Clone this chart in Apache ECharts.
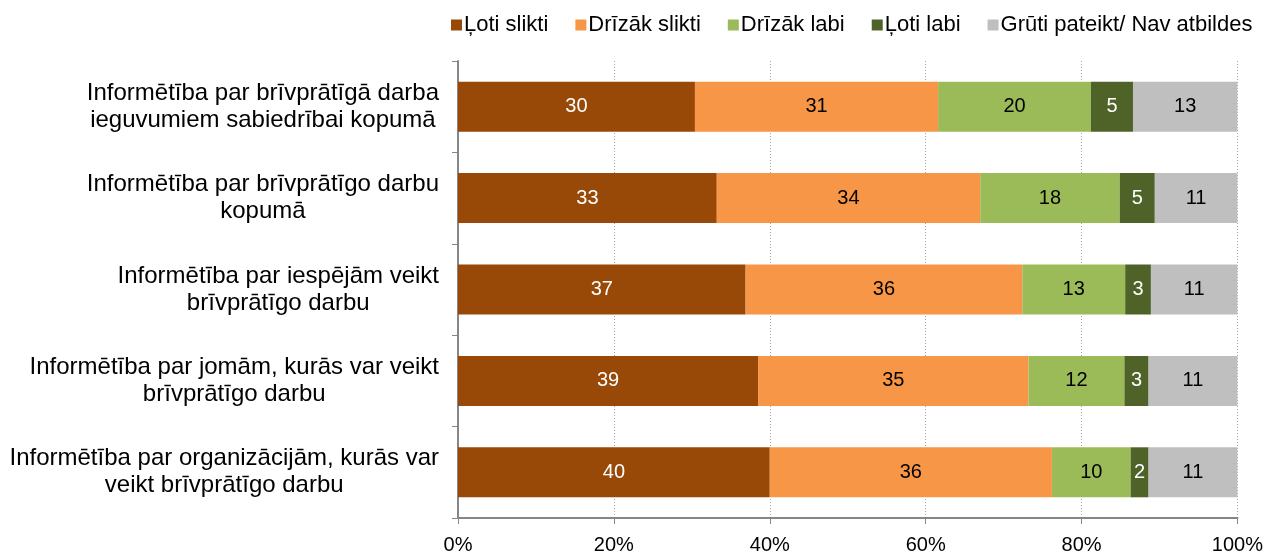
<!DOCTYPE html>
<html>
<head>
<meta charset="utf-8">
<script src="https://cdn.jsdelivr.net/npm/echarts@6/dist/echarts.min.js"></script>
<style>
  html, body { margin: 0; padding: 0; background: #fff; }
  #chart { width: 1266px; height: 555px; }
</style>
</head>
<body>
<div id="chart"></div>
<script>
const categories = [
  'Informētība par brīvprātīgā darba\nieguvumiem sabiedrībai kopumā',
  'Informētība par brīvprātīgo darbu\nkopumā',
  'Informētība par iespējām veikt\nbrīvprātīgo darbu',
  'Informētība par jomām, kurās var veikt\nbrīvprātīgo darbu',
  'Informētība par organizācijām, kurās var\nveikt brīvprātīgo darbu'
];
const seriesNames = ['Ļoti slikti', 'Drīzāk slikti', 'Drīzāk labi', 'Ļoti labi', 'Grūti pateikt/ Nav atbildes'];
// shares in % (labels show rounded values)
const lotiSlikti = [30.4, 33.2, 36.9, 38.5, 40.0];
const drizakSlikti = [31.2, 33.8, 35.5, 34.7, 36.2];
const drizakLabi = [19.6, 17.9, 13.2, 12.3, 10.1];
const lotiLabi = [5.4, 4.5, 3.3, 3.1, 2.3];
const gruti = [13.4, 10.6, 11.1, 11.4, 11.4];
const xTicks = [0, 20, 40, 60, 80, 100];

const colors = ['#984807', '#F79646', '#9BBB59', '#4F6228', '#BFBFBF'];
const labelColors = ['#fff', '#000', '#000', '#fff', '#000'];
const values = [lotiSlikti, drizakSlikti, drizakLabi, lotiLabi, gruti];

const chart = echarts.init(document.getElementById('chart'));

const option = {
  animation: false,
  textStyle: { fontFamily: 'Liberation Sans, Arial, sans-serif' },
  legend: {
    top: 9,
    left: 446,
    itemWidth: 11,
    itemHeight: 11,
    itemGap: 27,
    icon: 'rect',
    textStyle: { fontSize: 22, color: '#000', padding: [0, 0, 0, -3] },
    data: seriesNames
  },
  grid: { left: 458, right: 27, top: 61, bottom: 35 },
  xAxis: {
    type: 'value',
    min: xTicks[0],
    max: xTicks[xTicks.length - 1],
    interval: 20,
    axisLine: { show: true, lineStyle: { color: '#868686', width: 2 } },
    axisTick: { show: true, length: 6, lineStyle: { color: '#868686' } },
    axisLabel: { formatter: '{value}%', fontSize: 20, color: '#000', margin: 17 },
    splitLine: { show: true, lineStyle: { color: '#A6A6A6', type: [1, 2] } }
  },
  yAxis: {
    type: 'category',
    inverse: true,
    data: categories,
    axisLine: { show: true, lineStyle: { color: '#868686', width: 2 } },
    axisTick: { show: true, length: 6, lineStyle: { color: '#868686' } },
    axisLabel: {
      margin: 19,
      align: 'right',
      // each line centred inside the label block, like the wrapped Excel text
      formatter: v => v.split('\n').map(l => '{c|' + l + '}').join('\n'),
      rich: {
        c: { fontSize: 24, lineHeight: 27, color: '#000', align: 'center' }
      }
    }
  },
  series: seriesNames.map((name, i) => ({
    name: name,
    type: 'bar',
    stack: 'total',
    barWidth: 50,
    itemStyle: { color: colors[i] },
    label: {
      show: true,
      position: 'inside',
      fontSize: 20,
      color: labelColors[i],
      formatter: p => Math.round(p.value)
    },
    data: values[i]
  }))
};

chart.setOption(option);
</script>
</body>
</html>
